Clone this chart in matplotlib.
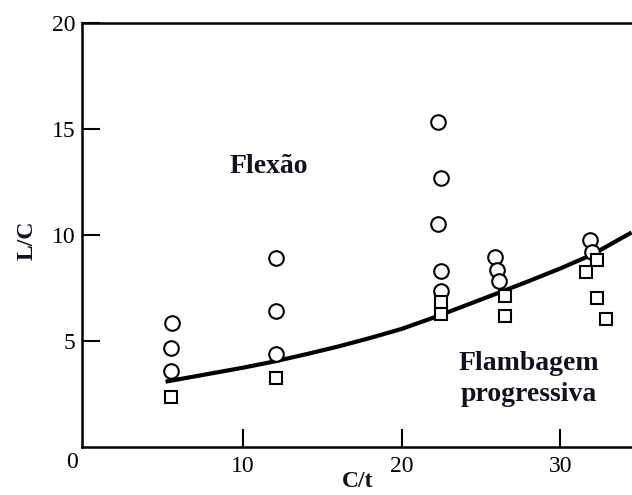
import matplotlib
matplotlib.use('Agg')
import matplotlib.pyplot as plt

# Flexao (circles)
circ_x = [5.5, 5.45, 5.45, 12.05, 12.1, 12.1,
          22.3, 22.5, 22.3, 22.45, 22.5,
          25.9, 26.0, 26.15,
          31.9, 32.0]
circ_y = [5.85, 4.65, 3.57, 8.9, 6.4, 4.38,
          15.3, 12.67, 10.5, 8.3, 7.35,
          8.94, 8.35, 7.82,
          9.75, 9.2]

# Flambagem progressiva (squares)
sq_x = [5.45, 12.1, 22.5, 22.5, 26.5, 26.5, 32.3, 31.6, 32.3, 32.9]
sq_y = [2.32, 3.25, 6.8, 6.26, 7.1, 6.16, 8.78, 8.22, 7.03, 6.03]

# transition curve
curve_x = [5.1, 8, 10, 12, 14, 16, 18, 20, 22, 24, 26, 28, 30, 32, 34.5]
curve_y = [3.06, 3.45, 3.72, 4.02, 4.36, 4.72, 5.12, 5.55, 6.08, 6.65, 7.22, 7.8, 8.4, 9.05, 10.1]

plt.rcParams['font.family'] = ['Liberation Serif', 'DejaVu Serif']

fig = plt.figure(figsize=(6.32, 4.95), dpi=100)
ax = fig.add_axes([82/632, 1-446.5/495, 550/632, 423.8/495])

ax.plot(curve_x, curve_y, color='black', lw=3.0, solid_capstyle='butt',
        solid_joinstyle='round', zorder=2)
ax.plot(circ_x, circ_y, 'o', ms=10.5, mfc='white', mec='black', mew=1.5, zorder=3)
ax.plot(sq_x, sq_y, 's', ms=8.5, mfc='white', mec='black', mew=1.5, zorder=3)

ax.set_xlim(-0.17, 34.53)
ax.set_ylim(0, 20)
ax.set_xticks([10, 20, 30])
ax.set_yticks([5, 10, 15, 20])
ax.tick_params(direction='in', length=13, width=1.5, labelsize=17, pad=5)
ax.tick_params(axis='x', pad=7)
for s in ['left', 'bottom', 'top']:
    ax.spines[s].set_linewidth(1.8)
ax.spines['right'].set_visible(False)

ax.text(-0.8, -0.76, '0', ha='center', va='center', fontsize=17, clip_on=False)

ax.set_xlabel('C/t', fontsize=17, fontweight='bold', color='#111122', va='center')
ax.xaxis.set_label_coords(0.502, -0.083)
ax.set_ylabel('L/C', fontsize=17, fontweight='bold', color='#111122', va='center')
ax.yaxis.set_label_coords(-0.1, 0.486)

ax.text(11.6, 13.2, 'Flexão', ha='center', va='center', fontsize=20,
        fontweight='bold', color='#111122')
ax.text(28.0, 3.18, 'Flambagem\nprogressiva', ha='center', va='center',
        fontsize=20, fontweight='bold', color='#111122', linespacing=1.3)

fig.savefig('out.png', dpi=100)
